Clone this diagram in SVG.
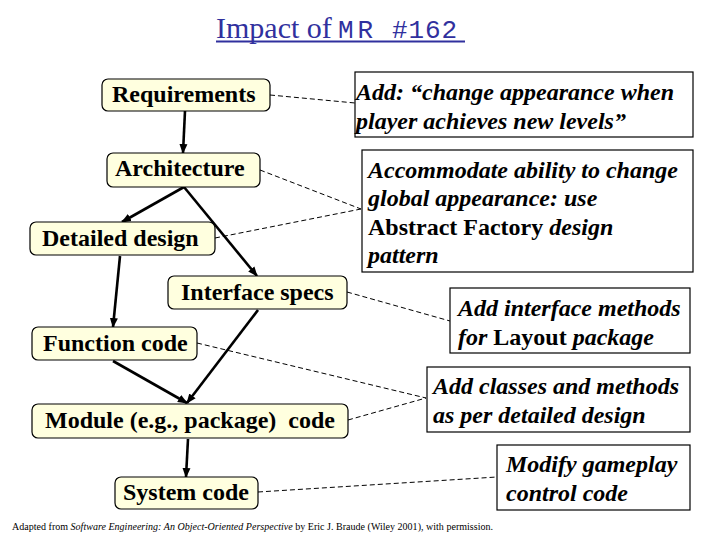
<svg xmlns="http://www.w3.org/2000/svg" width="720" height="540" viewBox="0 0 720 540">
<style>
.node rect{fill:#ffffdf;stroke:#000;stroke-width:1.2}
.node text{font-family:'Liberation Serif','Times New Roman',serif;font-weight:700;font-size:24px}
.note rect{fill:#fff;stroke:#000;stroke-width:1.2}
.note text{font-family:'Liberation Serif','Times New Roman',serif;font-weight:700;font-style:italic;font-size:24px}
.up{font-style:normal}
.ser{font-family:'Liberation Serif','Times New Roman',serif}
.mono{font-family:'Liberation Mono','Courier New',monospace}
.flow line{stroke:#000;stroke-width:2.6;marker-end:url(#ah)}
.dash line{stroke:#000;stroke-width:1;stroke-dasharray:5 3;fill:none}
</style>
<defs>
<marker id="ah" markerUnits="userSpaceOnUse" markerWidth="10" markerHeight="10" refX="9" refY="5" orient="auto">
<path d="M0,1 L10,5 L0,9 Z" fill="#000"/>
</marker>
</defs>
<rect width="720" height="540" fill="#fff"/>
<g id="title" fill="#30309e">
<text x="216" y="38" font-size="30" class="ser">Impact of</text>
<text x="338" y="38" font-size="26" class="mono" textLength="35">MR</text>
<text x="392" y="38" font-size="26" class="mono" textLength="65">#162</text>
<line x1="216" y1="41.5" x2="465" y2="41.5" stroke="#30309e" stroke-width="1.8"/>
</g>
<g id="connectors">
<g class="dash">
<line x1="270" y1="95" x2="355" y2="103"/>
<line x1="260" y1="170" x2="361" y2="209"/>
<line x1="215" y1="238" x2="361" y2="209"/>
<line x1="347" y1="292" x2="450" y2="321"/>
<line x1="197" y1="343" x2="426" y2="398"/>
<line x1="348" y1="420" x2="426" y2="398"/>
<line x1="258" y1="492" x2="497" y2="477"/>
</g>
<g class="flow">
<line x1="185" y1="111" x2="183" y2="153"/>
<line x1="184" y1="187" x2="122" y2="222"/>
<line x1="184" y1="187" x2="257" y2="276"/>
<line x1="120" y1="256" x2="113" y2="327"/>
<line x1="113" y1="361" x2="187" y2="403"/>
<line x1="258" y1="310" x2="187" y2="403"/>
<line x1="188" y1="439" x2="186" y2="477"/>
</g>
</g>
<g id="n-req" class="node"><rect x="102" y="79" width="168" height="32" rx="6"/><text x="112" y="102">Requirements</text></g>
<g id="n-arch" class="node"><rect x="107" y="153" width="153" height="34" rx="6"/><text x="115" y="176">Architecture</text></g>
<g id="n-dd" class="node"><rect x="30" y="222" width="185" height="33" rx="6"/><text x="42" y="246">Detailed design</text></g>
<g id="n-if" class="node"><rect x="168" y="276" width="179" height="33" rx="6"/><text x="181" y="300">Interface specs</text></g>
<g id="n-fc" class="node"><rect x="32" y="327" width="165" height="33" rx="6"/><text x="43" y="351">Function code</text></g>
<g id="n-mod" class="node"><rect x="32" y="404" width="316" height="34" rx="6"/><text x="45" y="428" xml:space="preserve">Module (e.g., package)  code</text></g>
<g id="n-sys" class="node"><rect x="115" y="477" width="143" height="32" rx="6"/><text x="123" y="500">System code</text></g>
<g id="a1" class="note"><rect x="355" y="72" width="338" height="65"/>
<text x="356" y="100">Add: “change appearance when</text>
<text x="356" y="129">player achieves new levels”</text></g>
<g id="a2" class="note"><rect x="362" y="150" width="331" height="122"/>
<text x="368" y="178">Accommodate ability to change</text>
<text x="368" y="206">global appearance: use</text>
<text x="368" y="235"><tspan class="up">Abstract Factory</tspan> design</text>
<text x="368" y="263">pattern</text></g>
<g id="a3" class="note"><rect x="450" y="288" width="240" height="65"/>
<text x="458" y="316">Add interface methods</text>
<text x="458" y="345">for <tspan class="up">Layout</tspan> package</text></g>
<g id="a4" class="note"><rect x="427" y="367" width="263" height="65"/>
<text x="433" y="394">Add classes and methods</text>
<text x="433" y="423">as per detailed design</text></g>
<g id="a5" class="note"><rect x="497" y="445" width="193" height="65"/>
<text x="506" y="472">Modify gameplay</text>
<text x="506" y="501">control code</text></g>
<text x="12" y="530" class="ser" font-size="10" textLength="481">Adapted from <tspan font-style="italic">Software Engineering: An Object-Oriented Perspective</tspan> by Eric J. Braude (Wiley 2001), with permission.</text>
</svg>
